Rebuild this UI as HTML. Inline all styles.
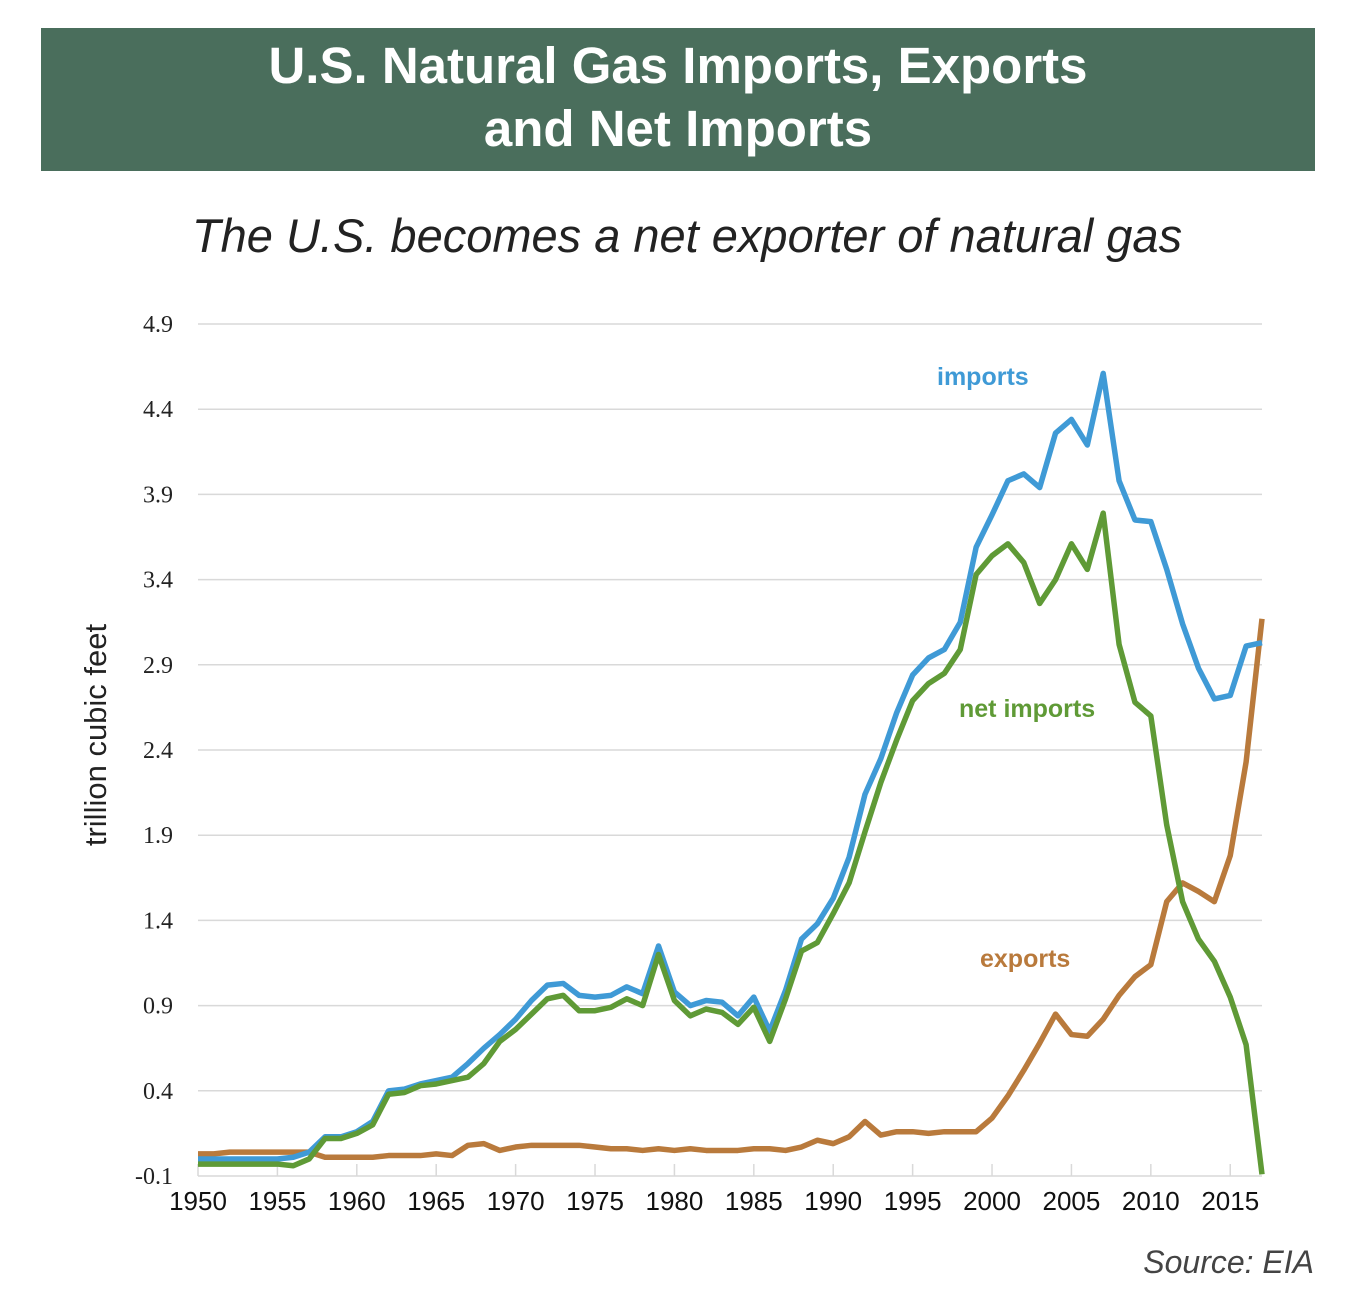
<!DOCTYPE html>
<html><head><meta charset="utf-8"><style>
html,body{margin:0;padding:0;background:#fff;}
body{width:1362px;height:1304px;position:relative;overflow:hidden;font-family:"Liberation Sans",sans-serif;}
#banner{position:absolute;left:41px;top:28px;width:1274px;height:143px;background:#4a6e5c;color:#fff;text-align:center;font-weight:bold;font-size:51px;line-height:63px;box-sizing:border-box;padding-top:6px;}
#subtitle{position:absolute;left:0;width:1362px;top:208px;text-align:center;font-style:italic;font-size:47px;color:#222;padding-left:12px;box-sizing:border-box;}
#source{position:absolute;right:48px;top:1244px;font-style:italic;font-size:32px;color:#444;}
</style></head><body>
<div id="banner">U.S. Natural Gas Imports, Exports<br>and Net Imports</div>
<div id="subtitle">The U.S. becomes a net exporter of natural gas</div>
<svg id="chart" width="1362" height="1304" style="position:absolute;left:0;top:0" xmlns="http://www.w3.org/2000/svg"></svg>
<div id="source">Source: EIA</div>
<script>
const years=[];for(let y=1950;y<=2017;y++)years.push(y);
const imports=[0.0,0.0,0.0,0.0,0.0,0.0,0.01,0.04,0.13,0.13,0.16,0.22,0.40,0.41,0.44,0.46,0.48,0.56,0.65,0.73,0.82,0.93,1.02,1.03,0.96,0.95,0.96,1.01,0.97,1.25,0.98,0.90,0.93,0.92,0.84,0.95,0.75,0.99,1.29,1.38,1.53,1.77,2.14,2.35,2.62,2.84,2.94,2.99,3.15,3.59,3.78,3.98,4.02,3.94,4.26,4.34,4.19,4.61,3.98,3.75,3.74,3.46,3.14,2.88,2.70,2.72,3.01,3.03];
const exports=[0.03,0.03,0.04,0.04,0.04,0.04,0.04,0.04,0.01,0.01,0.01,0.01,0.02,0.02,0.02,0.03,0.02,0.08,0.09,0.05,0.07,0.08,0.08,0.08,0.08,0.07,0.06,0.06,0.05,0.06,0.05,0.06,0.05,0.05,0.05,0.06,0.06,0.05,0.07,0.11,0.09,0.13,0.22,0.14,0.16,0.16,0.15,0.16,0.16,0.16,0.24,0.37,0.52,0.68,0.85,0.73,0.72,0.82,0.96,1.07,1.14,1.51,1.62,1.57,1.51,1.78,2.33,3.17];
const netImports=[-0.03,-0.03,-0.03,-0.03,-0.03,-0.03,-0.04,0.0,0.12,0.12,0.15,0.2,0.38,0.39,0.43,0.44,0.46,0.48,0.56,0.69,0.76,0.85,0.94,0.96,0.87,0.87,0.89,0.94,0.90,1.20,0.93,0.84,0.88,0.86,0.79,0.89,0.69,0.94,1.22,1.27,1.44,1.62,1.92,2.21,2.46,2.69,2.79,2.85,2.99,3.43,3.54,3.61,3.50,3.26,3.40,3.61,3.46,3.79,3.02,2.68,2.60,1.96,1.51,1.29,1.16,0.95,0.67,-0.09];
const yTicks=[-0.1,0.4,0.9,1.4,1.9,2.4,2.9,3.4,3.9,4.4,4.9];
const xTicks=[1950,1955,1960,1965,1970,1975,1980,1985,1990,1995,2000,2005,2010,2015];
const NS='http://www.w3.org/2000/svg';
const svg=document.getElementById('chart');
const X0=198,X1=1262,Y0=1176,Y1=324;
const xs=y=>X0+(y-1950)*(X1-X0)/(2017-1950);
const ys=v=>Y0-(v+0.1)*(Y0-Y1)/5.0;
function mk(t,a){const e=document.createElementNS(NS,t);for(const k in a)e.setAttribute(k,a[k]);svg.appendChild(e);return e;}
yTicks.forEach(v=>{
 const l=mk('line',{x1:X0,x2:X1,y1:ys(v),y2:ys(v),stroke:'#d9d9d9','stroke-width':1.5});
 
 
 const t=mk('text',{x:173,y:ys(v)+8,'text-anchor':'end','font-size':24,fill:'#222','font-family':'Liberation Serif, serif'});
 t.textContent=v.toFixed(1);
 
 
});
xTicks.forEach(yr=>{
 const tk=mk('line',{x1:xs(yr),x2:xs(yr),y1:Y0-12,y2:Y0,stroke:'#d9d9d9','stroke-width':1.5});
 
 
 const t=mk('text',{x:xs(yr),y:1210,'text-anchor':'middle','font-size':26,fill:'#111'});
 t.textContent=yr;
 
 
});
function series(arr,color,name){
 const p=mk('polyline',{points:arr.map((v,i)=>xs(years[i])+','+ys(v)).join(' '),fill:'none',stroke:color,'stroke-width':5.5,'stroke-linejoin':'round'});
 
 
}
series(exports,'#b97a3c','exports-line');
series(imports,'#3f9ad6','imports-line');
series(netImports,'#5f9a36','net-imports-line');
function lab(txt,x,y,c,name){const t=mk('text',{x:x,y:y,'font-size':25,'font-weight':'bold',fill:c});t.textContent=txt;
 
 }
lab('imports',937,385,'#3f9ad6','imports-label');
lab('net imports',959,717,'#5f9a36','net-imports-label');
lab('exports',980,967,'#b97a3c','exports-label');
const yt=mk('text',{x:0,y:0,transform:'translate(106,735) rotate(-90)','text-anchor':'middle','font-size':31,fill:'#222'});
yt.textContent='trillion cubic feet';


</script>
</body></html>
